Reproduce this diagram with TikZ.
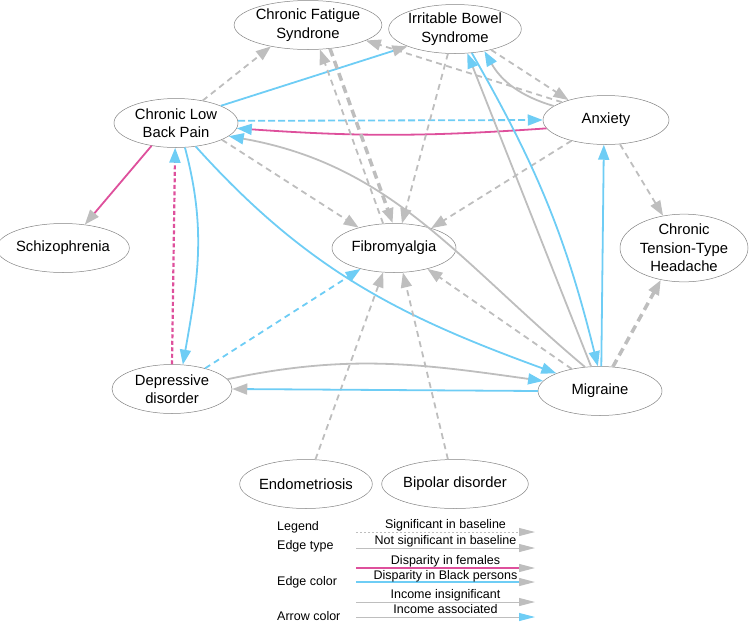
\documentclass[tikz,border=0pt]{standalone}
\usepackage{fontspec}
\setmainfont{Liberation Sans}
\usetikzlibrary{arrows.meta,shapes.geometric,positioning}
\definecolor{egray}{RGB}{190,190,190}
\definecolor{eblue}{RGB}{110,205,245}
\definecolor{epink}{RGB}{222,80,156}
\definecolor{rim}{RGB}{130,130,130}
\tikzset{
  dis/.style={ellipse, draw=rim, line width=0.5pt, minimum width=124pt, minimum height=49pt,
    inner sep=0pt, align=center, font=\fontsize{14.8}{18.5}\selectfont},
  lgd/.style={inner sep=0pt, font=\fontsize{12.5}{14}\selectfont},
  lg/.style={draw=egray, line width=1.8pt},
  lb/.style={draw=eblue, line width=1.8pt},
  lp/.style={draw=epink, line width=1.8pt},
  sig/.style={dash pattern=on 6pt off 4.5pt},
  thk/.style={line width=3.5pt, dash pattern=on 8pt off 5pt},
  ag/.style={-{Triangle[length=15pt,width=11pt,color=egray]}},
  ab/.style={-{Triangle[length=15pt,width=11pt,color=eblue]}},
  lag/.style={-{Triangle[length=16pt,width=8pt,color=egray]}},
  lab/.style={-{Triangle[length=16pt,width=8pt,color=eblue]}}
}
\begin{document}
\begin{tikzpicture}[x=1pt,y=1pt]
  \useasboundingbox (0,0) rectangle (750,-622);
  \path
  (308,-25) node[dis] (cfs) {Chronic Fatigue\\Syndrone}
  (455,-29) node[dis] (ibs) {Irritable Bowel\\Syndrome}
  (176,-123) node[dis] (clbp) {Chronic Low\\Back Pain}
  (606,-120) node[dis, minimum width=126pt] (anx) {Anxiety}
  (63,-248) node[dis] (schiz) {Schizophrenia}
  (394,-248) node[dis] (fibro) {Fibromyalgia}
  (684,-248) node[dis, minimum width=128pt, minimum height=61pt] (ctth) {Chronic\\Tension-Type\\Headache}
  (172,-389) node[dis, minimum width=120pt] (dep) {Depressive\\disorder}
  (600,-391) node[dis] (mig) {Migraine}
  (306,-484) node[dis] (endo) {Endometriosis}
  (455,-484) node[dis] (bip) {Bipolar disorder}
  ;

  % edges out of chronic low back pain
  \draw[sig,lg,ag] (clbp.40) -- (cfs.-150);
  \draw[lb,ag] (clbp.21) -- (ibs.-160);
  \draw[lb,ab,dash pattern=on 7pt off 3pt] (clbp.2) -- (anx.180);
  \draw[lp,ag] (clbp.-137) -- (schiz.47);
  \draw[sig,lg,ag] (clbp.-20) -- (fibro.150);
  \draw[lb,ab] (clbp.-70) to[out=-75,in=80] (dep.66);
  \draw[lb,ab] (clbp.-50) to[out=-48,in=160] (mig.158);

  % edges into chronic low back pain
  \draw[lp,ab] (anx.-172) to[bend left=4] (clbp.-5);
  \draw[lg,ab] (mig.122) to[out=140,in=-10] (clbp.-14);
  \draw[lp,ab,line width=2.2pt,dash pattern=on 4pt off 2.5pt] (dep.north) -- (clbp.-92);

  % fibromyalgia and chronic fatigue
  \draw[thk,draw=egray,ag] (cfs.-47) -- (fibro.93);
  \draw[sig,lg,ag] (fibro.114) -- (cfs.-64);
  \draw[sig,lg,ag] (ibs.-106) -- (fibro.72);
  \draw[sig,lg,ag] (anx.-149) -- (fibro.28);
  \draw[sig,lb,ab] (dep.32) -- (fibro.-148);
  \draw[sig,lg,ag] (endo.69) -- (fibro.-114);
  \draw[sig,lg,ag] (bip.106) -- (fibro.-70);
  \draw[sig,lg,ag] (mig.142) -- (fibro.-32);
  \draw[sig,lg,ag] (anx.158) -- (cfs.-15);

  % anxiety, bowel syndrome, migraine
  \draw[sig,lg,ag] (ibs.-30) -- (anx.152);
  \draw[lg,ab] (anx.165) to[bend left=22] (ibs.-37);
  \draw[lg,ab] (mig.110) -- (ibs.-63);
  \draw[lb,ab] (ibs.-55) to[bend left=8] (mig.95);
  \draw[lb,ab] (mig.87) -- (anx.-95);
  \draw[sig,lg,ag] (anx.-60) -- (ctth.123);
  \draw[thk,draw=egray,ag] (mig.62) -- (ctth.-126);

  % depressive disorder and migraine
  \draw[lg,ab] (dep.10) to[out=12,in=172] (mig.170);
  \draw[lb,ag] (mig.west) -- (dep.east);

  % legend
  \node[lgd, anchor=west] (lhead) at (277,-527) {Legend};
  \node[lgd, anchor=west] (ltype) at (277,-546) {Edge type};
  \node[lgd, anchor=west] (lcolor) at (277,-582) {Edge color};
  \node[lgd, anchor=west] (larrow) at (277,-616) {Arrow color};
  \coordinate (s1) at (356,-532); \coordinate (e1) at (535,-532);
  \coordinate (s2) at (356,-548); \coordinate (e2) at (535,-548);
  \coordinate (s3) at (356,-568); \coordinate (e3) at (535,-568);
  \coordinate (s4) at (356,-582); \coordinate (e4) at (535,-582);
  \coordinate (s5) at (356,-602); \coordinate (e5) at (535,-602);
  \coordinate (s6) at (356,-617); \coordinate (e6) at (535,-617);
  \draw[lg,line width=1pt,lag,dash pattern=on 2pt off 2pt] (s1) -- node[lgd, anchor=base, yshift=4pt] {Significant in baseline} (e1);
  \draw[lg,line width=1pt,lag] (s2) -- node[lgd, anchor=base, yshift=3.5pt] {Not significant in baseline} (e2);
  \draw[lp,line width=1.2pt,lag] (s3) -- node[lgd, anchor=base, yshift=3.5pt] {Disparity in females} (e3);
  \draw[lb,line width=1.2pt,lag] (s4) -- node[lgd, anchor=base, yshift=3pt] {Disparity in Black persons} (e4);
  \draw[lg,line width=1pt,lag] (s5) -- node[lgd, anchor=base, yshift=4pt] {Income insignificant} (e5);
  \draw[lg,line width=1pt,lab] (s6) -- node[lgd, anchor=base, yshift=4pt] {Income associated} (e6);
\end{tikzpicture}
\end{document}
